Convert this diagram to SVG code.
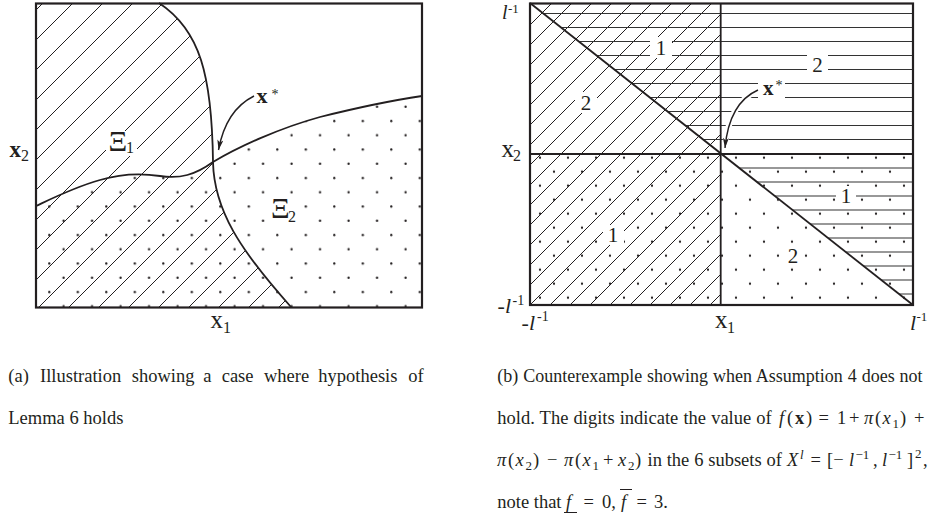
<svg xmlns="http://www.w3.org/2000/svg" width="928" height="523" viewBox="0 0 928 523">
<style>
text{font-family:"Liberation Serif","Times New Roman",serif;fill:#231f20}
.cap{font-size:18.5px}
.lab{font-size:25px}
.sm{font-size:16px}
.sup{font-size:14px}
.dig{font-size:21px;text-anchor:middle}
.it{font-style:italic}
.bf{font-weight:bold}
.hatch{stroke:#231f20;stroke-width:1;fill:none}
.hline{stroke:#333;stroke-width:1.1;fill:none}
.frame{fill:none;stroke:#231f20;stroke-width:2.2}
.curve{fill:none;stroke:#231f20;stroke-width:1.8}
.bg{fill:#fff}
.arrow{fill:none;stroke:#231f20;stroke-width:1.4}
.halo{fill:none;stroke:#fff;stroke-width:6}
</style>
<defs>
<pattern id="dotsA" patternUnits="userSpaceOnUse" x="42.175" y="113.875" width="28.5" height="28.5"><circle cx="7.125" cy="7.125" r="1.15" fill="#231f20"/><circle cx="21.375" cy="21.375" r="1.15" fill="#231f20"/></pattern>
<pattern id="dotsB" patternUnits="userSpaceOnUse" x="533" y="150.7" width="28" height="28"><circle cx="7" cy="7" r="1.15" fill="#231f20"/><circle cx="21" cy="21" r="1.15" fill="#231f20"/></pattern>
<clipPath id="xi1"><path d="M36,3 L159,3 C200,30 212,75 213,162 C214,210 240,250 291,307 L36,307 Z"/></clipPath>
<clipPath id="bl"><rect x="530" y="3" width="190.7" height="302"/></clipPath>
<clipPath id="tri"><path d="M530,3 L913,3 L913,305 Z"/></clipPath>
<marker id="ah" markerUnits="userSpaceOnUse" viewBox="0 0 10 6" refX="10" refY="3" markerWidth="11" markerHeight="6" orient="auto"><path d="M0,0 L10,3 L0,6 L2.5,3 Z" fill="#231f20"/></marker>
</defs>

<g id="panel-a">
  <path d="M36,206 C55,197 75,187 100,180 C120,174 140,173 160,176 C180,179 195,175 213,162 C240,146 280,128 320,117 C360,107 395,100 422,96 L422,307 L36,307 Z" fill="url(#dotsA)"/>
  <path class="hatch" clip-path="url(#xi1)" d="M-264,310L46,0M-234,310L76,0M-204,310L106,0M-174,310L136,0M-144,310L166,0M-114,310L196,0M-84,310L226,0M-54,310L256,0M-24,310L286,0M6,310L316,0M36,310L346,0M66,310L376,0M96,310L406,0M126,310L436,0M156,310L466,0M186,310L496,0M216,310L526,0M246,310L556,0M276,310L586,0"/>
  <path class="curve" d="M159,3 C200,30 212,75 213,162 C214,210 240,250 291,307"/>
  <path class="curve" d="M36,206 C55,197 75,187 100,180 C120,174 140,173 160,176 C180,179 195,175 213,162 C240,146 280,128 320,117 C360,107 395,100 422,96"/>
  <rect class="frame" x="36" y="3.5" width="386" height="304"/>
  <rect class="bg" x="106" y="131" width="31" height="25"/>
  <rect class="bg" x="268" y="197" width="31" height="29"/>
  <text><tspan x="108.5" y="151" font-size="29">Ξ</tspan><tspan class="sm" x="126" y="153">1</tspan></text>
  <text><tspan x="271" y="217.5" font-size="29">Ξ</tspan><tspan class="sm" x="288" y="222">2</tspan></text>
  <text><tspan class="bf" x="256.5" y="103" font-size="22">x</tspan><tspan class="sup" x="271.5" y="99">*</tspan></text>
  <text><tspan class="bf" x="9.5" y="157" font-size="23">x</tspan><tspan class="sm" x="21" y="161">2</tspan></text>
  <text><tspan class="lab" x="210.5" y="328">x</tspan><tspan class="sm" x="223" y="333">1</tspan></text>
</g>

<g id="panel-b">
  <rect x="530" y="154" width="383" height="151" fill="url(#dotsB)"/>
  <path class="hatch" clip-path="url(#bl)" d="M225,310L535,0M245,310L555,0M265,310L575,0M285,310L595,0M305,310L615,0M325,310L635,0M345,310L655,0M365,310L675,0M385,310L695,0M405,310L715,0M425,310L735,0M445,310L755,0M465,310L775,0M485,310L795,0M505,310L815,0M525,310L835,0M545,310L855,0M565,310L875,0M585,310L895,0M605,310L915,0M625,310L935,0M645,310L955,0M665,310L975,0M685,310L995,0M705,310L1015,0"/>
  <path class="hline" clip-path="url(#tri)" d="M530,13.5H913M530,27.5H913M530,41.5H913M530,55.5H913M530,69.5H913M530,83.5H913M530,97.5H913M530,111.5H913M530,125.5H913M530,139.5H913M530,168H913M530,182H913M530,196H913M530,210H913M530,224H913M530,238H913M530,252H913M530,266H913M530,280H913M530,294H913"/>
  <path class="halo" d="M758,90 C740,98 728,115 725,146"/>
  <rect class="bg" x="650" y="37" width="22" height="21"/>
  <rect class="bg" x="807" y="54" width="21" height="21"/>
  <rect class="bg" x="575" y="92" width="22" height="21"/>
  <rect class="bg" x="836" y="186" width="20" height="20"/>
  <rect class="bg" x="603" y="225" width="21" height="20"/>
  <rect class="bg" x="783" y="245" width="21" height="21"/>
  <rect class="bg" x="758" y="76" width="27" height="22"/>
  <path class="curve" d="M530,3 L913,305"/>
  <path class="curve" d="M720.7,3 V305 M530,154 H913"/>
  <rect class="frame" x="530" y="3.5" width="383" height="301.5"/>
  <text class="dig" x="661" y="55">1</text>
  <text class="dig" x="817.5" y="72">2</text>
  <text class="dig" x="586" y="110">2</text>
  <text class="dig" x="846" y="203">1</text>
  <text class="dig" x="613" y="242">1</text>
  <text class="dig" x="793" y="263">2</text>
  <text><tspan class="bf" x="763" y="95" font-size="21">x</tspan><tspan class="sup" x="775.5" y="90">*</tspan></text>
  <text><tspan class="it" x="502" y="18.5" font-size="20">l</tspan><tspan x="508" y="12.5" font-size="13">-1</tspan></text>
  <text><tspan class="lab" x="501.5" y="157">x</tspan><tspan class="sm" x="513" y="161">2</tspan></text>
  <text><tspan x="497.5" y="313" font-size="22">-</tspan><tspan class="it" x="505" y="313" font-size="22">l</tspan><tspan class="sup" x="512.5" y="305">-1</tspan></text>
  <text><tspan x="521.5" y="330" font-size="22">-</tspan><tspan class="it" x="529" y="330" font-size="22">l</tspan><tspan class="sup" x="537" y="321">-1</tspan></text>
  <text><tspan class="lab" x="715" y="328">x</tspan><tspan class="sm" x="727" y="333">1</tspan></text>
  <text><tspan class="it" x="910" y="330" font-size="22">l</tspan><tspan x="916.5" y="321" font-size="13">-1</tspan></text>
</g>

<g id="connectors">
  <path class="arrow" d="M254,96 C238,104 224,120 218.5,150" marker-end="url(#ah)"/>
  <path class="arrow" d="M758,90 C740,98 728,115 725,148" marker-end="url(#ah)"/>
</g>

<g id="caption-a">
  <text class="cap"><tspan x="8.3" y="381.7">(a)</tspan><tspan x="40" y="381.7">Illustration</tspan><tspan x="131.7" y="381.7">showing</tspan><tspan x="203.3" y="381.7">a</tspan><tspan x="221.7" y="381.7">case</tspan><tspan x="264" y="381.7">where</tspan><tspan x="318.3" y="381.7">hypothesis</tspan><tspan x="408.3" y="381.7">of</tspan></text>
  <text class="cap" x="8.3" y="424">Lemma 6 holds</text>
</g>

<g id="caption-b">
  <text x="497.3" y="381.7" font-size="18" word-spacing="0.4">(b) Counterexample showing when Assumption 4 does not</text>
  <text class="cap"><tspan x="497.3" y="424" word-spacing="0.5">hold. The digits indicate the value of</tspan><tspan class="it" x="779" y="424">f</tspan><tspan x="787" y="424">(</tspan><tspan class="bf" x="795" y="424">x</tspan><tspan x="806" y="424">)</tspan><tspan x="818.5" y="424">=</tspan><tspan x="837" y="424">1</tspan><tspan x="849" y="424">+</tspan><tspan class="it" x="864" y="424">π</tspan><tspan x="875" y="424">(</tspan><tspan class="it" x="882.5" y="424">x</tspan><tspan x="892.5" y="428" font-size="13">1</tspan><tspan x="900" y="424">)</tspan><tspan x="914" y="424">+</tspan></text>
  <text class="cap"><tspan class="it" x="497" y="466">π</tspan><tspan x="508" y="466">(</tspan><tspan class="it" x="515.5" y="466">x</tspan><tspan x="525.5" y="470" font-size="13">2</tspan><tspan x="533" y="466">)</tspan><tspan x="547" y="466">−</tspan><tspan class="it" x="564" y="466">π</tspan><tspan x="575" y="466">(</tspan><tspan class="it" x="582.5" y="466">x</tspan><tspan x="592.5" y="470" font-size="13">1</tspan><tspan x="603" y="466">+</tspan><tspan class="it" x="618" y="466">x</tspan><tspan x="628" y="470" font-size="13">2</tspan><tspan x="635" y="466">)</tspan><tspan x="647.5" y="466" word-spacing="0.2">in the 6 subsets of</tspan><tspan class="it" x="787" y="466">X</tspan><tspan class="it" x="800" y="459" font-size="13">l</tspan><tspan x="810.5" y="466">=</tspan><tspan x="827" y="466">[−</tspan><tspan class="it" x="849" y="466">l</tspan><tspan x="855.5" y="459" font-size="13">−1</tspan><tspan x="873" y="466">,</tspan><tspan class="it" x="882" y="466">l</tspan><tspan x="888.5" y="459" font-size="13">−1</tspan><tspan x="907" y="466">]</tspan><tspan x="915" y="458" font-size="13">2</tspan><tspan x="923" y="466">,</tspan></text>
  <text class="cap"><tspan x="497.3" y="508">note that</tspan><tspan class="it" x="566" y="508">f</tspan><tspan x="583.5" y="508">=</tspan><tspan x="602" y="508">0,</tspan><tspan class="it" x="621" y="508">f</tspan><tspan x="636.5" y="508">=</tspan><tspan x="654" y="508">3.</tspan></text>
  <path d="M564,512.5 H577 M620,489.5 H632" stroke="#231f20" stroke-width="1"/>
</g>
</svg>
